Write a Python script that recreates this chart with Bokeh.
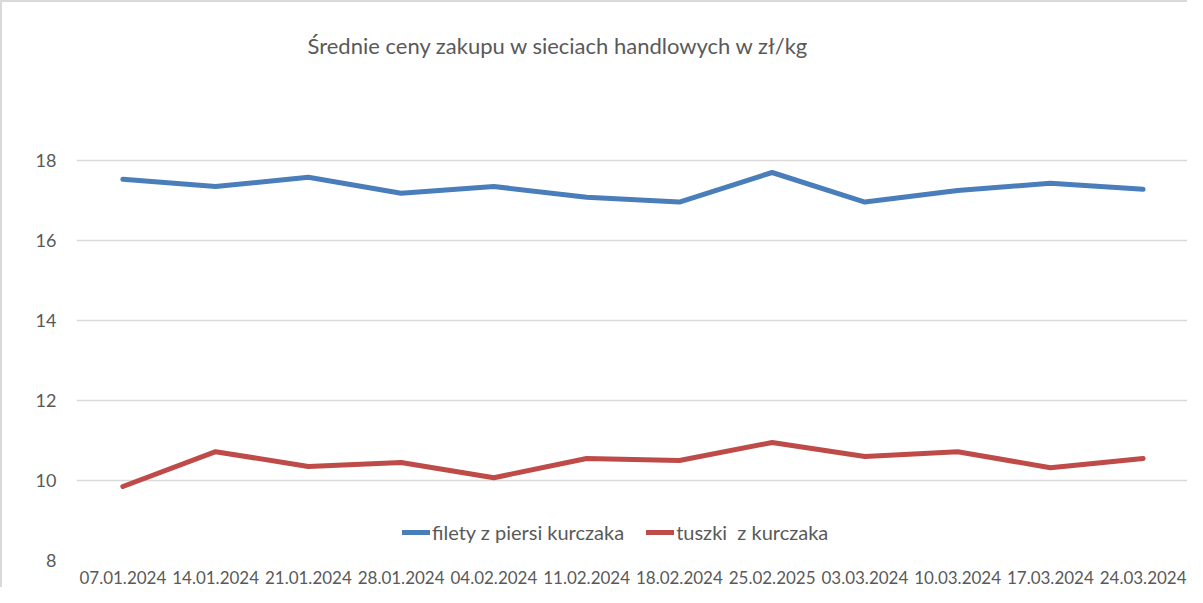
from bokeh.plotting import figure
from bokeh.models import Legend, LegendItem, Range1d, FixedTicker
from bokeh.embed import file_html
from bokeh.resources import INLINE

dates = ["07.01.2024", "14.01.2024", "21.01.2024", "28.01.2024", "04.02.2024", "11.02.2024",
         "18.02.2024", "25.02.2025", "03.03.2024", "10.03.2024", "17.03.2024", "24.03.2024"]
filety = [17.53, 17.35, 17.58, 17.18, 17.35, 17.08, 16.96, 17.70, 16.96, 17.25, 17.43, 17.28]
tuszki = [9.85, 10.72, 10.35, 10.45, 10.07, 10.55, 10.50, 10.95, 10.60, 10.72, 10.32, 10.55]
y_ticks = [8, 10, 12, 14, 16, 18]

FONT = "Lato"
GREY = "#595959"

p = figure(x_range=dates, y_range=Range1d(8, 20), width=1187, height=587,
           output_backend="svg", toolbar_location=None,
           min_border_left=74, min_border_right=0, min_border_top=78, min_border_bottom=29)

p.title.text = "Średnie ceny zakupu w sieciach handlowych w zł/kg"
p.title.text_font = FONT
p.title.text_font_size = "22px"
p.title.text_font_style = "normal"
p.title.text_color = GREY
p.title.align = "left"
p.title.offset = 231
p.title.standoff = 44

r1 = p.line(dates, filety, line_color="#4a7ebb", line_width=5, line_join="round", line_cap="round")
r2 = p.line(dates, tuszki, line_color="#be4b48", line_width=5, line_join="round", line_cap="round")

legend = Legend(items=[LegendItem(label="filety z piersi kurczaka", renderers=[r1]),
                       LegendItem(label="tuszki  z kurczaka", renderers=[r2])],
                orientation="horizontal", location=(326, 16),
                label_text_font=FONT, label_text_font_size="20px", label_text_color=GREY,
                glyph_width=28, glyph_height=24, label_standoff=2, spacing=22,
                padding=0, margin=0, border_line_color=None, background_fill_alpha=0)
p.add_layout(legend)

p.outline_line_color = None
p.xgrid.grid_line_color = None
p.ygrid.grid_line_color = "#d9d9d9"
p.ygrid.grid_line_width = 1.5
p.yaxis.ticker = FixedTicker(ticks=y_ticks)

for ax in (p.xaxis[0], p.yaxis[0]):
    ax.axis_line_color = None
    ax.major_tick_line_color = None
    ax.minor_tick_line_color = None
    ax.major_label_text_font = FONT
    ax.major_label_text_color = GREY
p.xaxis.major_label_text_font_size = "17px"
p.xaxis.major_label_standoff = 4
p.yaxis.major_label_text_font_size = "18px"
p.yaxis.major_label_standoff = 14

p.styles = {"border-left": "2px solid #d9d9d9", "border-top": "2px solid #d9d9d9"}

open("out.html", "w").write(file_html(p, INLINE))
